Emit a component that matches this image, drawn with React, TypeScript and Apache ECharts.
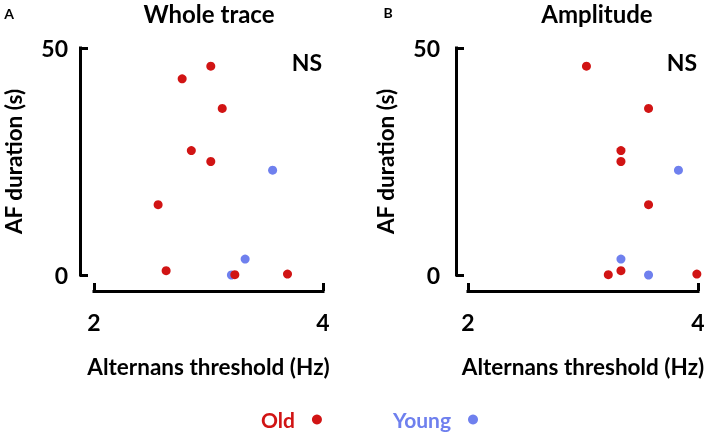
import React, { useEffect, useRef } from "react";
import * as echarts from "echarts";

const panelTitles = ["Whole trace", "Amplitude"];
const panelLetters = ["A", "B"];
const xTicks = [2, 4];
const yTicks = [0, 50];

// Panel A (Whole trace)
const oldWholeX = [3.02, 2.77, 3.12, 2.85, 3.02, 2.56, 2.63, 3.23, 3.69];
const oldWholeY = [46.0, 43.2, 36.7, 27.4, 25.0, 15.5, 0.95, 0.07, 0.2];
const youngWholeX = [3.56, 3.32, 3.2];
const youngWholeY = [23.1, 3.5, 0];

// Panel B (Amplitude)
const oldAmpX = [3.03, 3.57, 3.33, 3.33, 3.57, 3.33, 3.22, 3.99];
const oldAmpY = [46.0, 36.7, 27.4, 25.0, 15.5, 0.95, 0.07, 0.2];
const youngAmpX = [3.83, 3.33, 3.57];
const youngAmpY = [23.1, 3.5, 0];

const RED = "#d11414";
const BLUE = "#6f80ee";
const FONT = "Lato";

const zip = (xs: number[], ys: number[]) => xs.map((x, i) => [x, ys[i]]);

export default function App() {
  const ref = useRef<HTMLDivElement>(null);
  useEffect(() => {
    if (!ref.current) return;
    const chart = echarts.init(ref.current, null, { renderer: "svg" });
    const grids = [
      { left: 94, top: 48, width: 229, height: 227 },
      { left: 468, top: 48, width: 230, height: 227 },
    ];
    const axisLine = { show: true, onZero: false, lineStyle: { color: "#000", width: 3, cap: "square" } };
    const axisTick = { show: true, inside: true, length: 8, lineStyle: { color: "#000", width: 3 } };
    const labelStyle = { color: "#000", fontSize: 23, fontWeight: "bold", fontFamily: FONT };
    const nameStyle = { color: "#000", fontSize: 22.5, fontWeight: "bold", fontFamily: FONT };
    const xAxes = grids.map((_, i) => ({
      type: "value",
      gridIndex: i,
      min: xTicks[0],
      max: xTicks[1],
      interval: xTicks[1] - xTicks[0],
      offset: 16,
      axisLine,
      axisTick,
      splitLine: { show: false },
      axisLabel: { ...labelStyle, margin: 19 },
      name: "Alternans threshold (Hz)",
      nameLocation: "middle",
      nameGap: 64,
      nameTextStyle: nameStyle,
    }));
    const yAxes = grids.map((_, i) => ({
      type: "value",
      gridIndex: i,
      min: yTicks[0],
      max: yTicks[1],
      interval: yTicks[1] - yTicks[0],
      offset: i === 0 ? 14 : 12,
      axisLine,
      axisTick,
      splitLine: { show: false },
      axisLabel: { ...labelStyle, margin: i === 0 ? 12 : 16 },
      name: "AF duration (s)",
      nameLocation: "middle",
      nameGap: i === 0 ? 55 : 59,
      nameTextStyle: nameStyle,
    }));
    const mk = (name: string, color: string, data: number[][], idx: number) => ({
      type: "scatter",
      name,
      xAxisIndex: idx,
      yAxisIndex: idx,
      data,
      symbol: "circle",
      symbolSize: 9,
      itemStyle: { color, opacity: 1 },
      z: name === "Old" ? 3 : 2,
    });
    const txt = (text: string, x: number, y: number, size: number, align = "center") => ({
      type: "text",
      x,
      y,
      style: {
        text,
        fill: "#000",
        fontSize: size,
        fontWeight: "bold",
        fontFamily: FONT,
        align,
        verticalAlign: "middle",
      },
    });
    chart.setOption({
      animation: false,
      grid: grids,
      xAxis: xAxes,
      yAxis: yAxes,
      legend: {
        data: [
          { name: "Old", textStyle: { color: RED } },
          { name: "Young", textStyle: { color: BLUE } },
        ],
        left: 256,
        top: 404,
        padding: 5,
        align: "right",
        icon: "circle",
        itemWidth: 10,
        itemHeight: 10,
        itemGap: 71,
        textStyle: { fontSize: 21, fontWeight: "bold", fontFamily: FONT, padding: [0, 12, 0, 0] },
      },
      series: [
        mk("Young", BLUE, zip(youngWholeX, youngWholeY), 0),
        mk("Old", RED, zip(oldWholeX, oldWholeY), 0),
        mk("Young", BLUE, zip(youngAmpX, youngAmpY), 1),
        mk("Old", RED, zip(oldAmpX, oldAmpY), 1),
      ],
      graphic: [
        txt(panelTitles[0], 209, 13, 24),
        txt(panelTitles[1], 597, 13, 24),
        txt(panelLetters[0], 9, 13, 14),
        txt(panelLetters[1], 388, 12, 14),
        txt("NS", 307, 62, 23),
        txt("NS", 682, 62, 23),
      ],
    });
    return () => chart.dispose();
  }, []);
  return (
    <div
      ref={ref}
      style={{ position: "fixed", left: 0, top: 0, width: 709, height: 434 }}
    />
  );
}
